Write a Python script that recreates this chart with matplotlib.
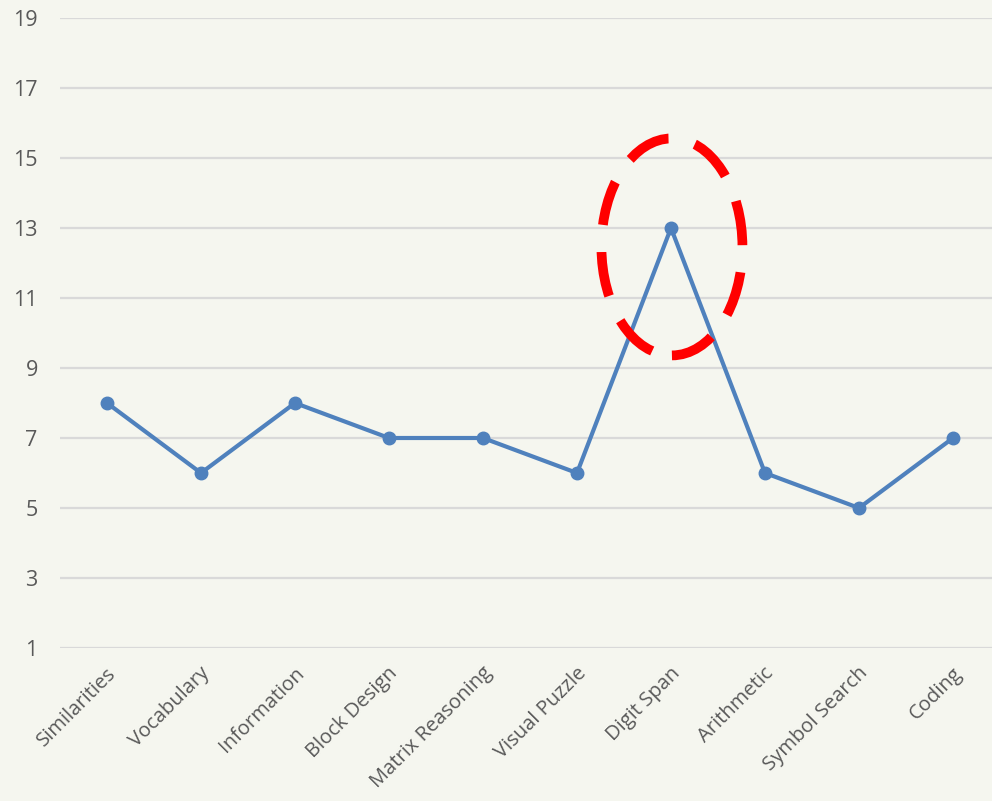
import matplotlib
matplotlib.use("Agg")
import matplotlib.pyplot as plt
import matplotlib.transforms as mtransforms
from matplotlib.patches import Ellipse

subtests = [
    "Similarities", "Vocabulary", "Information", "Block Design",
    "Matrix Reasoning", "Visual Puzzle", "Digit Span", "Arithmetic",
    "Symbol Search", "Coding",
]
scores = [8, 6, 8, 7, 7, 6, 13, 6, 5, 7]
y_ticks = [1, 3, 5, 7, 9, 11, 13, 15, 17, 19]

highlight = "Digit Span"

bg = "#f5f6ef"
line_color = "#4f81bd"
text_color = "#595959"

plt.rcParams["font.family"] = ["Open Sans", "DejaVu Sans"]

fig = plt.figure(figsize=(9.92, 8.01), dpi=100, facecolor=bg)
ax = fig.add_axes([60 / 992, 1 - 648 / 801, 1 - 60 / 992, (648 - 18) / 801])
ax.set_facecolor(bg)

x = list(range(len(subtests)))
ax.plot(x, scores, color=line_color, linewidth=3, marker="o",
        markersize=9, zorder=3)

ax.set_ylim(1, 19)
ax.set_xlim(-0.5, 9.415)
ax.set_yticks(y_ticks)
ax.set_yticklabels([str(v) for v in y_ticks], fontsize=15.5, color=text_color)
ax.set_xticks(x)
ax.set_xticklabels(subtests, rotation=45, ha="right", va="center",
                   rotation_mode="anchor", fontsize=14.5, color=text_color)
ax.tick_params(axis="both", length=0)
ax.tick_params(axis="y", pad=16)
ax.tick_params(axis="x", pad=16)

# nudge the slanted labels a little to the right
shift = mtransforms.ScaledTranslation(6 / 100, 0, fig.dpi_scale_trans)
for lbl in ax.get_xticklabels():
    lbl.set_transform(lbl.get_transform() + shift)

ax.grid(axis="y", color="#d9d9d9", linewidth=1.6)
ax.set_axisbelow(True)
for s in ax.spines.values():
    s.set_visible(False)

# red dashed ellipse around the highlighted subtest
i = subtests.index(highlight)
ell = Ellipse((i + 0.01, scores[i] - 0.54), width=1.5, height=6.2,
              fill=False, edgecolor="#ff0000", linewidth=7,
              linestyle=(0, (4.6, 2.8)), zorder=4, clip_on=False)
ax.add_patch(ell)

fig.savefig("out.png", dpi=100, facecolor=bg)
